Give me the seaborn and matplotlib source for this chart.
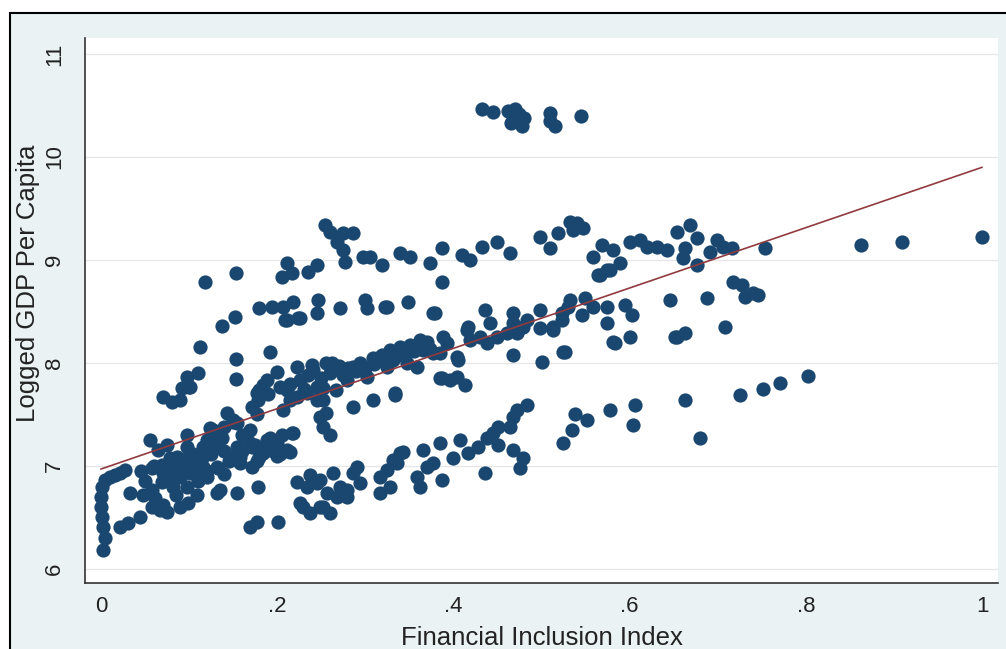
import numpy as np
import pandas as pd
import matplotlib.pyplot as plt
import seaborn as sns
from matplotlib.patches import Rectangle

# top cluster (around 10.4)
top_fii = [.432, .445, .462, .468, .472, .475, .465, .478, .470, .480, .510, .510, .515, .545]
top_gdp = [10.47, 10.44, 10.45, 10.40, 10.36, 10.42, 10.33, 10.30, 10.47, 10.38, 10.43, 10.35, 10.30, 10.40]

# upper band (8.4 - 9.4)
upper_fii = [.254, .26, .275, .286, .268, .275, .277, .297, .305, .319, .118, .153, .211, .205, .217, .235, .245,
             .18, .194, .207, .218, .211, .224, .246, .245, .271, .30, .302, .322, .138, .152,
             .34, .351, .373, .387, .387, .41, .419, .432, .449, .464, .498, .51, .519, .532, .54, .547, .536,
             .558, .569, .581, .574, .564, .589, .60, .612, .62, .631, .642, .654, .669, .676, .663, .661,
             .676, .699, .706, .716, .691, .754, .566, .578,
             .348, .377, .436, .468, .532, .549, .558, .546, .574, .574, .595, .603, .646, .688, .717, .727,
             .731, .74, .746, .862, .909, 1.0, .209, .226, .379, .325]
upper_gdp = [9.34, 9.27, 9.26, 9.26, 9.17, 9.10, 8.98, 9.03, 9.03, 8.95, 8.79, 8.87, 8.97, 8.83, 8.87, 8.88, 8.95,
             8.53, 8.54, 8.54, 8.59, 8.42, 8.44, 8.61, 8.49, 8.53, 8.61, 8.53, 8.54, 8.36, 8.45,
             9.07, 9.03, 8.97, 9.12, 8.79, 9.05, 9.0, 9.13, 9.17, 9.07, 9.22, 9.12, 9.26, 9.37, 9.36, 9.31, 9.29,
             9.03, 9.15, 9.10, 8.90, 8.85, 8.97, 9.17, 9.19, 9.13, 9.13, 9.10, 9.27, 9.34, 9.21, 9.12, 9.02,
             8.95, 9.19, 9.13, 9.12, 9.08, 9.12, 8.85, 8.90,
             8.59, 8.49, 8.51, 8.49, 8.61, 8.63, 8.54, 8.47, 8.54, 8.39, 8.56, 8.47, 8.61, 8.63, 8.79, 8.76,
             8.64, 8.68, 8.66, 9.15, 9.17, 9.22, 8.42, 8.44, 8.49, 8.54]

# middle band (7.3 - 8.4), main diagonal
middle_fii = [.112, .192, .153, .153, .11, .098, .10,
              .417, .442, .498, .513, .523, .468, .50, .524, .387, .404, .413, .334, .583, .60, .581, .654,
              .663, .708, .652, .527,
              .18, .188, .20, .203, .211, .222, .226, .241, .245, .252, .256, .262, .271, .279, .286, .294,
              .302, .309, .319, .325, .339, .351, .362, .373, .385, .393, .385, .396, .286, .309, .334, .178,
              .177, .169,
              .317, .328, .339, .365, .377, .388, .404, .405, .415, .419, .43, .438, .449, .461, .468, .472,
              .479, .484, .498, .513, .523, .53, .331, .347, .359,
              .172, .177, .184, .207, .215, .222, .234, .245, .249, .252, .26, .252, .267, .07, .081, .09,
              .092, .101, .143, .15,
              .27, .29, .31, .32, .30, .335, .345, .355, .365, .37,
              .19, .215, .23, .235, .25, .26, .275, .28, .24, .255]
middle_gdp = [8.16, 8.11, 8.04, 7.84, 7.90, 7.86, 7.77,
              8.35, 8.39, 8.34, 8.32, 8.42, 8.08, 8.01, 8.11, 7.85, 7.86, 7.79, 7.71, 8.19, 8.25, 8.20, 8.25,
              8.29, 8.35, 8.25, 8.11,
              7.74, 7.83, 7.91, 7.77, 7.74, 7.96, 7.83, 7.93, 7.77, 7.64, 7.51, 8.0, 7.93, 7.83, 7.96, 8.0,
              7.86, 8.05, 8.08, 7.96, 8.13, 8.17, 8.22, 8.14, 8.10, 8.19, 7.85, 7.83, 7.57, 7.64, 7.69, 7.64,
              7.50, 7.35,
              8.06, 8.13, 8.16, 8.13, 8.10, 8.25, 8.06, 8.03, 8.32, 8.22, 8.25, 8.19, 8.25, 8.29, 8.39, 8.29,
              8.35, 8.42, 8.51, 8.35, 8.49, 8.54, 8.03, 8.0, 7.96,
              7.57, 7.71, 7.79, 7.54, 7.64, 7.67, 7.71, 7.64, 7.48, 7.38, 7.30, 7.76, 7.74, 7.67, 7.62, 7.64,
              7.76, 7.77, 7.51, 7.45,
              7.97, 7.92, 7.99, 8.02, 7.95, 8.07, 8.10, 8.12, 8.18, 8.20,
              7.70, 7.80, 7.75, 7.88, 7.85, 7.90, 7.88, 7.95, 7.98, 8.0]

# lower band (6.2 - 7.9)
lower_fii = [.002, .005, .002, .001, 0, 0, .001, .005, .01, .016, .022, .027,
             .022, .031, .044, .033, .048, .058, .058, .067, .075, .061, .069, .082, .099, .109, .098, .058,
             .069, .081, .09, .101, .112, .121, .133, .135, .154, .178,
             .056, .065, .075, .078, .086, .098, .098, .105, .116, .127, .127, .138, .15, .154, .158, .172,
             .177, .184, .192, .2, .211, .217,
             .124, .135, .218, .169, .188, .203, .215, .12, .131, .15, .158, .18, .172,
             .291, .286, .263, .237, .222, .234, .245, .257, .271, .279, .294, .317, .325, .336, .339, .317,
             .328, .365, .37, .377, .385, .387, .359, .362, .132, .116, .132,
             .249, .226, .237, .252, .26, .268, .279, .169, .177, .201, .229, .249,
             .343, .331, .4, .407, .417, .428, .436, .438, .445, .451, .451, .464, .468, .472, .484, .468,
             .479, .476, .524, .535, .538, .552, .578, .606, .604,
             .663, .68, .725, .751, .771, .802,
             .085, .095, .105, .115, .125, .14, .145, .16, .165, .175, .185, .195, .2, .205, .09, .1, .13,
             .14, .155, .16, .06, .07, .045, .05, .08, .11, .12, .14, .085, .07, .09]
lower_gdp = [6.18, 6.30, 6.41, 6.50, 6.60, 6.70, 6.80, 6.86, 6.89, 6.91, 6.93, 6.96,
             6.41, 6.45, 6.50, 6.74, 6.72, 6.77, 6.60, 6.57, 6.55, 6.69, 6.84, 6.80, 6.64, 6.72, 6.80, 6.98,
             7.01, 6.96, 6.89, 6.93, 6.96, 6.89, 6.98, 6.77, 6.74, 6.80,
             7.25, 7.16, 7.20, 7.08, 7.09, 7.30, 7.18, 7.12, 7.18, 7.35, 7.23, 7.27, 7.43, 7.18, 7.09, 7.18,
             7.05, 7.13, 7.27, 7.10, 7.16, 7.32,
             7.37, 7.33, 7.32, 7.22, 7.25, 7.12, 7.14, 7.25, 7.18, 7.09, 7.03, 7.09, 6.99,
             6.99, 6.93, 6.93, 6.91, 6.84, 6.80, 6.83, 6.74, 6.80, 6.70, 6.83, 6.89, 6.96, 7.03, 7.13, 6.74,
             6.80, 7.16, 6.99, 7.03, 7.22, 6.86, 6.89, 6.80, 6.74, 6.99, 6.99,
             6.86, 6.64, 6.54, 6.60, 6.54, 6.70, 6.77, 6.41, 6.46, 6.46, 6.60, 6.60,
             7.14, 7.06, 7.08, 7.25, 7.13, 7.18, 6.93, 7.27, 7.32, 7.38, 7.20, 7.38, 7.48, 7.54, 7.59, 7.16,
             7.08, 6.98, 7.22, 7.35, 7.50, 7.45, 7.54, 7.59, 7.40,
             7.64, 7.27, 7.69, 7.75, 7.81, 7.87,
             7.0, 7.05, 7.0, 7.08, 7.12, 7.15, 7.05, 7.15, 7.28, 7.2, 7.18, 7.15, 7.22, 7.3, 6.95, 7.1, 7.3,
             7.38, 7.42, 7.3, 7.0, 6.93, 6.95, 6.85, 6.88, 6.85, 6.95, 6.92, 6.72, 6.62, 6.6]

# fitted line (linear fit)
fit_intercept = 6.97
fit_slope = 2.93

x_ticks = [0, .2, .4, .6, .8, 1]
x_tick_labels = ["0", ".2", ".4", ".6", ".8", "1"]
y_ticks = [6, 7, 8, 9, 10, 11]

df = pd.DataFrame({
    "fii": top_fii + upper_fii + middle_fii + lower_fii,
    "gdp": top_gdp + upper_gdp + middle_gdp + lower_gdp,
})

sns.set_theme(style="white")
plt.rcParams["font.family"] = ["Liberation Sans", "DejaVu Sans"]

navy = "#1a476f"
fig = plt.figure(figsize=(10.06, 6.49), dpi=100, facecolor="white")
fig.patches.append(Rectangle((10 / 1006, -0.2), 1.2, 0.98 + 0.2, transform=fig.transFigure,
                             facecolor="#eaf2f3", edgecolor="black", linewidth=1.5, zorder=-5))

ax = fig.add_axes([85 / 1006, 1 - 583 / 649, (998 - 85) / 1006, (583 - 38) / 649])
ax.set_zorder(1)
ax.set_facecolor("white")

for yt in y_ticks:
    ax.axhline(yt, color="#e6e6e6", linewidth=0.9, zorder=0)

sns.scatterplot(data=df, x="fii", y="gdp", ax=ax, color=navy, s=105, linewidth=0, zorder=2)

line_x = np.array([0, 1])
ax.plot(line_x, fit_intercept + fit_slope * line_x, color="#913a3f", linewidth=1.2, zorder=3)

ax.set_xlim(-0.018, 1.018)
ax.set_ylim(5.864, 11.155)
ax.set_xticks(x_ticks)
ax.set_xticklabels(x_tick_labels)
ax.set_yticks(y_ticks)

for side in ["top", "right"]:
    ax.spines[side].set_visible(False)
for side in ["left", "bottom"]:
    ax.spines[side].set_color("#333333")
    ax.spines[side].set_linewidth(1.2)

ax.tick_params(axis="both", direction="out", length=6.5, width=1, color="#333333",
               labelsize=16, labelcolor="#222222")
ax.tick_params(axis="x", pad=3)
ax.tick_params(axis="y", pad=8, labelrotation=90)
for lab in ax.get_yticklabels():
    lab.set_va("center")

ax.set_xlabel("Financial Inclusion Index", fontsize=18.5, color="#222222")
ax.set_ylabel("Logged GDP Per Capita", fontsize=18.5, color="#222222")
ax.xaxis.set_label_coords(0.5, -0.079)
ax.yaxis.set_label_coords(-0.049, 0.55)

fig.savefig("out.png", dpi=100, facecolor=fig.get_facecolor())
